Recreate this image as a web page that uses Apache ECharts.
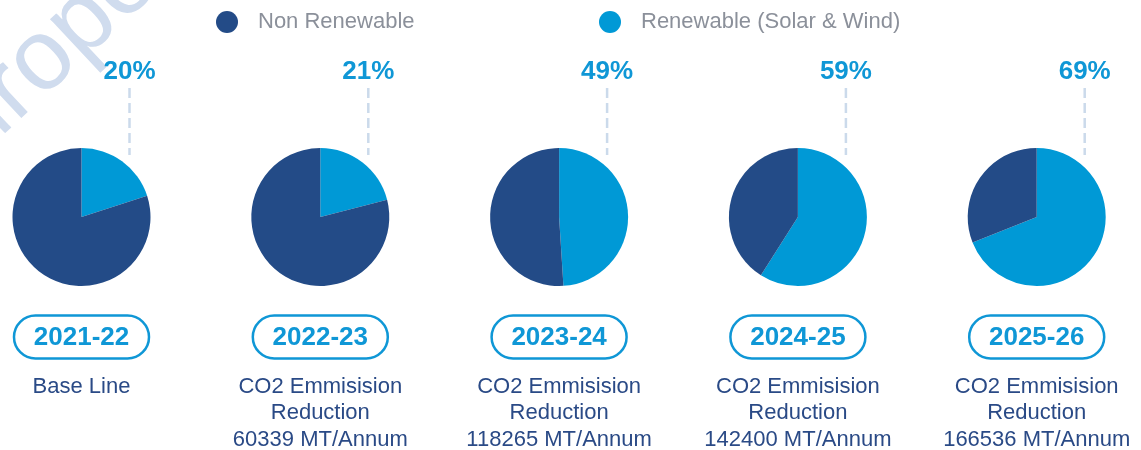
<!DOCTYPE html>
<html>
<head>
<meta charset="utf-8">
<script src="https://cdn.jsdelivr.net/npm/echarts@6/dist/echarts.min.js"></script>
<style>
  html, body { margin: 0; padding: 0; background: #ffffff; }
  #chart { width: 1141px; height: 450px; }
</style>
</head>
<body>
<div id="chart"></div>
<script>
// ---- data ----
var years = ['2021-22', '2022-23', '2023-24', '2024-25', '2025-26'];
var renewable = [20, 21, 49, 59, 69];
var nonRenewable = [80, 79, 51, 41, 31];
var captions = [
  ['Base Line'],
  ['CO2 Emmisision', 'Reduction', '60339 MT/Annum'],
  ['CO2 Emmisision', 'Reduction', '118265 MT/Annum'],
  ['CO2 Emmisision', 'Reduction', '142400 MT/Annum'],
  ['CO2 Emmisision', 'Reduction', '166536 MT/Annum']
];
var NAME_NR = 'Non Renewable';
var NAME_R = 'Renewable (Solar & Wind)';

// ---- layout / style ----
var COL_NR = '#234b87';
var COL_R = '#0099d6';
var FONT = '"Liberation Sans", Arial, sans-serif';
var firstX = 81.5, stepX = 238.8, pieY = 217, pieR = 69;

var chart = echarts.init(document.getElementById('chart'));

var series = [];
var graphics = [];

// watermark
graphics.push({
  type: 'text', x: -92, y: 186, rotation: 0.75, z: 0, silent: true,
  style: { text: 'Europe', fill: '#d0dcee', font: '100px ' + FONT, align: 'left', verticalAlign: 'middle' }
});

years.forEach(function (yr, i) {
  var cx = firstX + stepX * i;
  series.push({
    type: 'pie',
    center: [cx, pieY],
    radius: pieR,
    startAngle: 90,
    clockwise: true,
    silent: true,
    label: { show: false },
    labelLine: { show: false },
    itemStyle: { borderWidth: 0 },
    emphasis: { disabled: true },
    z: 2,
    data: [
      { name: NAME_R, value: renewable[i], itemStyle: { color: COL_R } },
      { name: NAME_NR, value: nonRenewable[i], itemStyle: { color: COL_NR } }
    ]
  });
  // dashed leader
  graphics.push({
    type: 'line', z: 1, silent: true,
    shape: { x1: cx + 48, y1: 88, x2: cx + 48, y2: 155 },
    style: { stroke: '#cbdaeb', lineWidth: 2.5, lineDash: [10, 5] }
  });
  // percentage
  graphics.push({
    type: 'text', x: cx + 48, y: 72, z: 3, silent: true,
    style: { text: renewable[i] + '%', fill: '#0f97d6', font: 'bold 26px ' + FONT, align: 'center', verticalAlign: 'middle' }
  });
  // year pill
  graphics.push({
    type: 'rect', z: 3, silent: true,
    shape: { x: cx - 67.5, y: 315.5, width: 135, height: 43, r: 21.5 },
    style: { fill: '#ffffff', stroke: '#0f97d6', lineWidth: 2.5 }
  });
  graphics.push({
    type: 'text', x: cx, y: 338, z: 4, silent: true,
    style: { text: yr, fill: '#0f97d6', font: 'bold 26px ' + FONT, align: 'center', verticalAlign: 'middle' }
  });
  // captions
  captions[i].forEach(function (line, k) {
    graphics.push({
      type: 'text', x: cx, y: 386.5 + 26.5 * k, z: 3, silent: true,
      style: { text: line, fill: '#2a4a86', font: '22px ' + FONT, align: 'center', verticalAlign: 'middle' }
    });
  });
});

var legendCommon = {
  icon: 'circle', itemWidth: 22, itemHeight: 22, top: 11, padding: 0,
  selectedMode: false,
  textStyle: { color: '#8b909a', fontSize: 22, fontFamily: FONT, padding: [0, 0, 0, 15] }
};

chart.setOption({
  backgroundColor: '#ffffff',
  animation: false,
  legend: [
    Object.assign({}, legendCommon, { left: 216, data: [NAME_NR] }),
    Object.assign({}, legendCommon, { left: 599, data: [NAME_R] })
  ],
  series: series,
  graphic: graphics
});
</script>
</body>
</html>
